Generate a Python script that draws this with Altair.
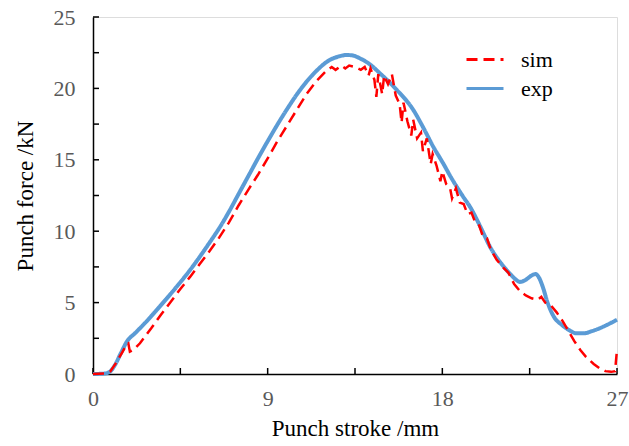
import altair as alt
import pandas as pd

# ---- data ----
exp_x = [0, 0.6, 0.9, 1.13, 1.45, 1.74, 2.2, 2.7, 3.28, 4.31, 5.0, 5.86, 6.71, 7.0,
         7.5, 8.0, 8.5, 9.0, 9.63, 10.0, 10.49, 11.35, 12.2, 12.7, 13.07, 13.4, 13.76, 14.3,
         14.79, 15.65, 16.5, 17.0, 17.54, 18.0, 18.5, 19.08, 19.43, 20.0, 20.46, 21.0,
         21.5, 21.8, 22.0, 22.3, 22.6, 22.8, 23.0, 23.2, 23.4, 23.6, 23.8, 24.1, 24.5,
         24.9, 25.3, 25.7, 26.1, 26.5, 27.0]
exp_y = [0, 0.03, 0.2, 0.63, 1.5, 2.26, 2.9, 3.6, 4.48, 6.11, 7.28, 8.91, 10.67, 11.35,
         12.6, 13.85, 15.1, 16.3, 17.75, 18.55, 19.55, 21.0, 21.99, 22.25, 22.34, 22.3, 22.1, 21.65,
         21.05, 19.9, 18.5, 17.3, 15.9, 14.85, 13.65, 12.4, 11.7, 10.2, 8.9, 7.8,
         7.0, 6.6, 6.45, 6.6, 6.9, 7.0, 6.7, 6.0, 5.1, 4.4, 3.9, 3.5, 3.1,
         2.85, 2.85, 3.0, 3.2, 3.45, 3.8]

sim_x = [0, 0.6, 0.9, 1.2, 1.5, 1.75, 1.82, 1.9, 2.1, 2.42, 3.0, 3.5, 4.0, 4.5, 5.0,
         5.5, 6.0, 6.5, 7.0, 7.5, 8.0, 8.5, 9.0, 9.5, 10.0, 10.5, 11.0, 11.5, 12.0,
         12.3, 12.5, 12.8, 13.0, 13.2, 13.5, 13.8, 14.0, 14.2, 14.3, 14.5, 14.6,
         14.7, 14.9, 15.0, 15.2, 15.4, 15.6, 15.8, 15.9, 16.0, 16.2, 16.4, 16.5,
         16.7, 16.9, 17.0, 17.2, 17.4, 17.5, 17.7, 17.9, 18.0, 18.2, 18.4, 18.5,
         18.7, 18.9, 19.1, 19.3, 19.5, 19.7, 19.9, 20.1, 20.3, 20.5, 20.8, 21.1,
         21.4, 21.7, 22.0, 22.3, 22.6, 22.9, 23.1, 23.3, 23.6, 23.9, 24.2, 24.5,
         24.8, 25.1, 25.4, 25.8, 26.1, 26.4, 26.7, 26.9, 27.0]
sim_y = [0, 0.03, 0.2, 0.8, 1.5, 2.1, 2.15, 1.56, 1.7, 2.15, 3.2, 4.15, 5.05, 5.95, 6.8,
         7.7, 8.6, 9.55, 10.6, 11.8, 12.9, 13.95, 15.1, 16.3, 17.4, 18.5, 19.6, 20.5, 21.2,
         21.5, 21.3, 21.6, 21.4, 21.6, 21.5, 21.3, 21.5, 20.9, 21.4, 20.6, 19.4,
         21.0, 19.6, 20.9, 20.3, 21.0, 19.5, 18.9, 17.6, 19.0, 17.7, 16.7, 17.8,
         16.5, 16.9, 15.6, 16.5, 14.7, 15.4, 14.6, 13.5, 14.2, 13.3, 13.0, 12.3,
         13.0, 12.0, 11.9, 11.2, 11.3, 10.6, 10.4, 9.6, 9.5, 8.7, 8.0, 7.5,
         7.1, 6.3, 5.8, 5.5, 5.3, 5.2, 5.4, 5.0, 4.8, 4.3, 3.7, 3.0,
         2.3, 1.7, 1.2, 0.7, 0.4, 0.2, 0.15, 0.2, 1.7]

series_names = ["sim", "exp"]
x_tick_values = [0, 4.5, 9, 13.5, 18, 22.5, 27]
x_label_values = [0, 9, 18, 27]
y_tick_values = [0, 2.5, 5, 7.5, 10, 12.5, 15, 17.5, 20, 22.5, 25]
y_label_values = [0, 5, 10, 15, 20, 25]

df = pd.concat([
    pd.DataFrame({"stroke": sim_x, "force": sim_y, "series": "sim", "order": range(len(sim_x))}),
    pd.DataFrame({"stroke": exp_x, "force": exp_y, "series": "exp", "order": range(len(exp_x))}),
])

W, H = 524, 357
FONT = "Liberation Serif"

xscale = alt.Scale(domain=[0, 27], nice=False, zero=False)
yscale = alt.Scale(domain=[0, 25], nice=False)

xaxis = alt.Axis(values=x_label_values, ticks=False, grid=False, domainColor="black",
                 domainWidth=1.5, labelColor="#595959", labelFontSize=22, labelFont=FONT,
                 labelPadding=14, labelFlush=False, title="Punch stroke /mm", titleFont=FONT,
                 titleFontSize=23, titleFontWeight="normal", titleColor="black", titlePadding=8)
yaxis = alt.Axis(values=y_label_values, ticks=False, grid=False, domainColor="black",
                 domainWidth=1.5, labelColor="#595959", labelFontSize=22, labelFont=FONT,
                 labelPadding=18, labelFlush=False, title="Punch force /kN", titleFont=FONT,
                 titleFontSize=23, titleFontWeight="normal", titleColor="black", titlePadding=16)

leg = alt.Legend(title=None, orient="none", legendX=372, legendY=28, labelFont=FONT,
                 labelFontSize=22, labelColor="black")
color = alt.Color("series:N", scale=alt.Scale(domain=series_names, range=["#FF0000", "#5B9BD5"]),
                  legend=leg)
dash = alt.StrokeDash("series:N", scale=alt.Scale(domain=series_names, range=[[11, 6], [1, 0]]),
                      legend=leg)

exp_line = alt.Chart(df).transform_filter(alt.datum.series == "exp").mark_line(
    strokeWidth=4, interpolate="monotone").encode(
    x=alt.X("stroke:Q", scale=xscale, axis=xaxis),
    y=alt.Y("force:Q", scale=yscale, axis=yaxis),
    color=color, strokeDash=dash, order="order:Q")

sim_line = alt.Chart(df).transform_filter(alt.datum.series == "sim").mark_line(
    strokeWidth=2.5).encode(
    x=alt.X("stroke:Q", scale=xscale, axis=xaxis),
    y=alt.Y("force:Q", scale=yscale, axis=yaxis),
    color=color, strokeDash=dash, order="order:Q")

xt = alt.Chart(pd.DataFrame({"stroke": x_tick_values})).mark_rule(
    color="black", strokeWidth=1.5).encode(
    x=alt.X("stroke:Q", scale=xscale, axis=xaxis), y=alt.value(H), y2=alt.value(H - 6))
yt = alt.Chart(pd.DataFrame({"force": y_tick_values})).mark_rule(
    color="black", strokeWidth=1.5).encode(
    y=alt.Y("force:Q", scale=yscale, axis=yaxis), x=alt.value(0), x2=alt.value(6))

chart = alt.layer(xt, yt, exp_line, sim_line).properties(
    width=W, height=H,
    autosize=alt.AutoSizeParams(type="none"),
    padding={"left": 93, "top": 17, "right": 12, "bottom": 72},
).configure_view(stroke="#808080", strokeWidth=1).configure(
    background="white"
).configure_legend(
    symbolType="stroke", symbolSize=1369, symbolStrokeWidth=3, clipHeight=29,
    labelFont=FONT, labelFontSize=22, labelColor="black", labelOffset=16,
    rowPadding=0, padding=0
)

chart.save("out.html", embed_options={"renderer": "svg", "actions": False})
